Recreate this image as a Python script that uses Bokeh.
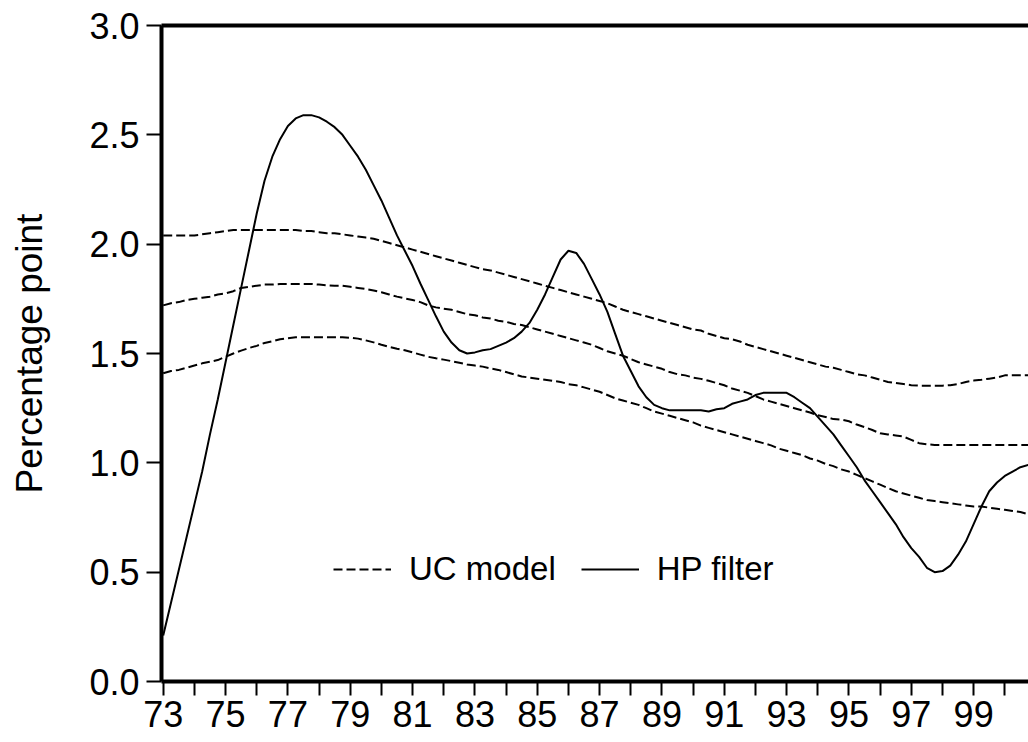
import numpy as np
from bokeh.plotting import figure
from bokeh.models import Range1d, FixedTicker, LinearAxis, Legend, LegendItem, PrintfTickFormatter
from bokeh.embed import file_html
from bokeh.resources import INLINE

# Quarterly observations 1973Q1 .. 2000Q4
start_year = 1973
n_quarters = 112

hp_filter = [
    0.21, 0.36, 0.51, 0.66, 0.81, 0.96, 1.13, 1.29, 1.46, 1.63,
    1.80, 1.97, 2.14, 2.29, 2.40, 2.48, 2.54, 2.575, 2.59, 2.59,
    2.58, 2.56, 2.535, 2.50, 2.45, 2.40, 2.34, 2.27, 2.20, 2.12,
    2.04, 1.97, 1.90, 1.82, 1.745, 1.67, 1.60, 1.55, 1.515, 1.50,
    1.505, 1.515, 1.52, 1.535, 1.55, 1.57, 1.60, 1.64, 1.70, 1.77,
    1.85, 1.93, 1.97, 1.96, 1.91, 1.84, 1.77, 1.69, 1.59, 1.49,
    1.42, 1.35, 1.30, 1.265, 1.25, 1.24, 1.24, 1.24, 1.24, 1.24,
    1.235, 1.245, 1.25, 1.27, 1.28, 1.29, 1.31, 1.32, 1.32, 1.32,
    1.32, 1.30, 1.275, 1.25, 1.21, 1.17, 1.13, 1.08, 1.03, 0.98,
    0.92, 0.87, 0.82, 0.77, 0.72, 0.66, 0.61, 0.57, 0.52, 0.50,
    0.505, 0.53, 0.58, 0.64, 0.72, 0.80, 0.87, 0.91, 0.94, 0.96,
    0.98, 0.99,
]

uc_upper = [
    2.04, 2.04, 2.04, 2.04, 2.04, 2.045, 2.05, 2.055, 2.06, 2.065,
    2.065, 2.065, 2.065, 2.065, 2.065, 2.065, 2.065, 2.065, 2.06, 2.06,
    2.055, 2.05, 2.05, 2.045, 2.04, 2.035, 2.03, 2.025, 2.015, 2.005,
    1.995, 1.985, 1.975, 1.965, 1.955, 1.945, 1.935, 1.925, 1.915, 1.905,
    1.895, 1.885, 1.88, 1.87, 1.86, 1.85, 1.84, 1.83, 1.82, 1.81,
    1.80, 1.79, 1.78, 1.77, 1.76, 1.75, 1.74, 1.73, 1.715, 1.70,
    1.69, 1.68, 1.67, 1.66, 1.65, 1.64, 1.63, 1.62, 1.61, 1.605,
    1.59, 1.58, 1.57, 1.565, 1.555, 1.54, 1.53, 1.52, 1.51, 1.50,
    1.49, 1.48, 1.47, 1.46, 1.45, 1.44, 1.435, 1.425, 1.415, 1.405,
    1.40, 1.39, 1.38, 1.37, 1.365, 1.36, 1.355, 1.353, 1.353, 1.353,
    1.353, 1.355, 1.36, 1.37, 1.376, 1.38, 1.385, 1.39, 1.40, 1.40,
    1.40, 1.40,
]

uc_mid = [
    1.72, 1.73, 1.735, 1.745, 1.75, 1.755, 1.76, 1.77, 1.775, 1.785,
    1.80, 1.805, 1.81, 1.815, 1.815, 1.818, 1.818, 1.818, 1.818, 1.818,
    1.815, 1.812, 1.81, 1.81, 1.805, 1.80, 1.795, 1.788, 1.78, 1.77,
    1.76, 1.752, 1.745, 1.735, 1.72, 1.711, 1.705, 1.70, 1.69, 1.68,
    1.675, 1.665, 1.66, 1.65, 1.645, 1.635, 1.63, 1.62, 1.61, 1.60,
    1.59, 1.58, 1.57, 1.56, 1.55, 1.54, 1.525, 1.51, 1.50, 1.49,
    1.475, 1.46, 1.45, 1.44, 1.43, 1.415, 1.405, 1.40, 1.39, 1.384,
    1.375, 1.365, 1.355, 1.34, 1.33, 1.32, 1.305, 1.29, 1.28, 1.27,
    1.26, 1.25, 1.24, 1.23, 1.218, 1.21, 1.20, 1.198, 1.19, 1.175,
    1.163, 1.15, 1.135, 1.13, 1.125, 1.12, 1.105, 1.09, 1.085, 1.082,
    1.082, 1.082, 1.082, 1.082, 1.082, 1.082, 1.082, 1.082, 1.082, 1.082,
    1.082, 1.082,
]

uc_lower = [
    1.41, 1.42, 1.425, 1.435, 1.445, 1.455, 1.462, 1.47, 1.485, 1.50,
    1.513, 1.525, 1.535, 1.548, 1.556, 1.565, 1.57, 1.574, 1.574, 1.574,
    1.574, 1.574, 1.574, 1.574, 1.572, 1.568, 1.56, 1.551, 1.54, 1.53,
    1.522, 1.515, 1.505, 1.495, 1.485, 1.478, 1.472, 1.465, 1.458, 1.45,
    1.445, 1.44, 1.432, 1.425, 1.415, 1.405, 1.395, 1.39, 1.385, 1.38,
    1.375, 1.37, 1.36, 1.355, 1.345, 1.335, 1.325, 1.31, 1.295, 1.285,
    1.275, 1.265, 1.25, 1.235, 1.225, 1.215, 1.205, 1.195, 1.185, 1.17,
    1.16, 1.15, 1.14, 1.13, 1.12, 1.11, 1.10, 1.09, 1.08, 1.065,
    1.055, 1.045, 1.035, 1.02, 1.01, 0.995, 0.985, 0.97, 0.96, 0.945,
    0.93, 0.915, 0.90, 0.885, 0.87, 0.86, 0.85, 0.84, 0.83, 0.825,
    0.82, 0.815, 0.81, 0.805, 0.80, 0.80, 0.795, 0.79, 0.785, 0.78,
    0.775, 0.765,
]

y_ticks = [0.0, 0.5, 1.0, 1.5, 2.0, 2.5, 3.0]
label_years = list(range(1973, 2000, 2))
minor_years = list(range(1974, 2001, 2))
year_labels = {y: f"{y % 100:02d}" for y in label_years}

t = start_year + np.arange(n_quarters) / 4.0

FONT = "Liberation Sans"

p = figure(width=1028, height=742, output_backend="svg", toolbar_location=None,
           x_range=Range1d(1972.945, 2000.76), y_range=Range1d(0, 3.0),
           min_border_left=161, min_border_right=0, min_border_top=25, min_border_bottom=61)
p.grid.visible = False
p.outline_line_color = None
p.background_fill_color = "white"

dash = "9 4"
r_up = p.line(t, uc_upper, line_color="black", line_width=2, line_dash=dash)
r_mid = p.line(t, uc_mid, line_color="black", line_width=2, line_dash=dash)
r_low = p.line(t, uc_lower, line_color="black", line_width=2, line_dash=dash)
r_hp = p.line(t, hp_filter, line_color="black", line_width=2)

# x axis
xa = p.xaxis[0]
xa.ticker = FixedTicker(ticks=label_years, minor_ticks=minor_years)
xa.major_label_overrides = year_labels
xa.axis_line_width = 4
xa.axis_line_color = "black"
xa.major_tick_in = 0
xa.major_tick_out = 14
xa.minor_tick_in = 0
xa.minor_tick_out = 14
xa.major_tick_line_width = 2
xa.minor_tick_line_width = 2
xa.major_tick_line_color = "black"
xa.minor_tick_line_color = "black"
xa.major_label_standoff = 5
xa.major_label_text_font = FONT
xa.major_label_text_font_size = "36px"
xa.major_label_text_color = "black"

# y axis
ya = p.yaxis[0]
ya.ticker = FixedTicker(ticks=y_ticks, minor_ticks=[])
ya.formatter = PrintfTickFormatter(format="%.1f")
ya.axis_line_width = 4
ya.axis_line_color = "black"
ya.major_tick_in = 0
ya.major_tick_out = 15
ya.minor_tick_line_color = None
ya.major_tick_line_width = 2
ya.major_tick_line_color = "black"
ya.major_label_standoff = 7
ya.major_label_text_font = FONT
ya.major_label_text_font_size = "36px"
ya.major_label_text_color = "black"
ya.axis_label = "Percentage point"
ya.axis_label_text_font = FONT
ya.axis_label_text_font_size = "37px"
ya.axis_label_text_font_style = "normal"
ya.axis_label_text_color = "black"
ya.axis_label_standoff = 36

# top border line
top = LinearAxis(ticker=FixedTicker(ticks=[]), axis_line_width=4, axis_line_color="black",
                 major_tick_line_color=None, minor_tick_line_color=None,
                 major_label_text_font_size="0px")
p.add_layout(top, "above")

legend = Legend(items=[LegendItem(label="UC model", renderers=[r_mid]),
                       LegendItem(label="HP filter", renderers=[r_hp])],
                orientation="horizontal", location=(172, 93),
                border_line_color=None, background_fill_alpha=0,
                padding=0, margin=0, glyph_width=58, glyph_height=20,
                label_standoff=18, spacing=25,
                label_text_font=FONT, label_text_font_size="33px", label_text_color="black")
p.add_layout(legend, "center")

open("out.html", "w").write(file_html(p, INLINE))
